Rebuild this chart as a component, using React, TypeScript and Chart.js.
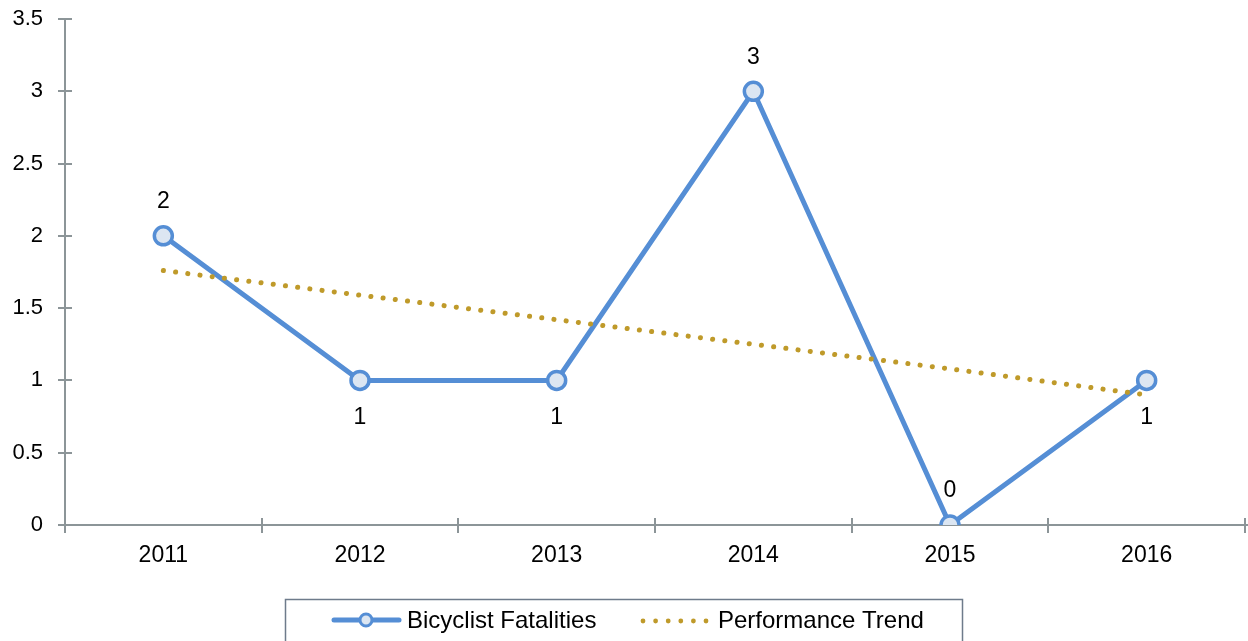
import React, { useEffect, useRef } from "react";
import { Chart, registerables } from "chart.js";

Chart.register(...registerables);

const years = ["2011", "2012", "2013", "2014", "2015", "2016"];
const fatalities = [2, 1, 1, 3, 0, 1];
const trend = [1.76, 1.59, 1.42, 1.25, 1.08, 0.9];
const labelPlacement = ["above", "below", "below", "above", "above", "below"];
const yTicks = [0, 0.5, 1, 1.5, 2, 2.5, 3, 3.5];

const BLUE = "#558ED5";
const GOLD = "#BF9A2A";
const AXIS = "#8C9598";
const FONT = "'Liberation Sans', Arial, sans-serif";

const axesPlugin = {
  id: "customAxes",
  beforeDatasetsDraw(chart: any) {
    const { ctx, chartArea, scales } = chart;
    const x = scales.x;
    const y = scales.y;
    ctx.save();
    ctx.strokeStyle = AXIS;
    ctx.lineWidth = 2;
    const left = chartArea.left;
    const bottom = chartArea.bottom;
    ctx.beginPath();
    ctx.moveTo(left, chartArea.top);
    ctx.lineTo(left, bottom + 8);
    ctx.moveTo(left, bottom);
    ctx.lineTo(chart.width, bottom);
    for (const v of yTicks) {
      const py = Math.round(y.getPixelForValue(v));
      ctx.moveTo(left - 7, py);
      ctx.lineTo(left + 7, py);
    }
    const step = x.getPixelForValue(1) - x.getPixelForValue(0);
    for (let i = 1; i <= years.length; i++) {
      const px = Math.round(x.getPixelForValue(i) - step / 2);
      ctx.moveTo(px, bottom - 7);
      ctx.lineTo(px, bottom + 8);
    }
    ctx.stroke();
    ctx.restore();
  },
};

const labelsPlugin = {
  id: "dataLabels",
  afterDatasetsDraw(chart: any) {
    const { ctx } = chart;
    const meta = chart.getDatasetMeta(1);
    ctx.save();
    ctx.fillStyle = "#000";
    ctx.font = `23px ${FONT}`;
    ctx.textAlign = "center";
    ctx.textBaseline = "middle";
    meta.data.forEach((pt: any, i: number) => {
      const dy = labelPlacement[i] === "above" ? -34 : 37;
      ctx.fillText(String(fatalities[i]), pt.x, pt.y + dy);
    });
    ctx.restore();
  },
};

const legendPlugin = {
  id: "customLegend",
  afterDraw(chart: any) {
    const { ctx } = chart;
    ctx.save();
    ctx.strokeStyle = "#6E7B8B";
    ctx.lineWidth = 1.5;
    ctx.strokeRect(285.5, 599.5, 677, 60);

    ctx.strokeStyle = BLUE;
    ctx.lineWidth = 5;
    ctx.lineCap = "round";
    ctx.beginPath();
    ctx.moveTo(334, 620);
    ctx.lineTo(399, 620);
    ctx.stroke();
    ctx.beginPath();
    ctx.arc(366, 620, 6, 0, Math.PI * 2);
    ctx.fillStyle = "#DCE6F2";
    ctx.fill();
    ctx.lineWidth = 3;
    ctx.stroke();

    ctx.fillStyle = GOLD;
    for (let i = 0; i < 6; i++) {
      ctx.beginPath();
      ctx.arc(643 + i * 12.6, 621, 2.4, 0, Math.PI * 2);
      ctx.fill();
    }

    ctx.fillStyle = "#000";
    ctx.font = `24px ${FONT}`;
    ctx.textAlign = "left";
    ctx.textBaseline = "alphabetic";
    ctx.fillText("Bicyclist Fatalities", 407, 628);
    ctx.fillText("Performance Trend", 718, 628);
    ctx.restore();
  },
};

export default function App() {
  const ref = useRef<HTMLCanvasElement | null>(null);
  useEffect(() => {
    if (!ref.current) return;
    const chart = new Chart(ref.current, {
      type: "line",
      data: {
        labels: years,
        datasets: [
          {
            label: "Performance Trend",
            data: trend,
            borderColor: GOLD,
            borderWidth: 5,
            borderDash: [0.1, 12.2],
            borderCapStyle: "round",
            pointRadius: 0,
            fill: false,
            order: 0,
          },
          {
            label: "Bicyclist Fatalities",
            data: fatalities,
            borderColor: BLUE,
            borderWidth: 5,
            pointRadius: 9,
            pointBorderWidth: 3.5,
            pointBackgroundColor: "#DCE6F2",
            pointBorderColor: BLUE,
            fill: false,
            tension: 0,
            order: 1,
          },
        ],
      },
      options: {
        responsive: false,
        animation: false,
        devicePixelRatio: 1,
        layout: { autoPadding: false, padding: { top: 19, right: 3, left: 0, bottom: 0 } },
        plugins: { legend: { display: false }, tooltip: { enabled: false } },
        scales: {
          x: {
            offset: true,
            grid: { display: false, drawTicks: false },
            border: { display: false },
            ticks: {
              color: "#000",
              font: { family: FONT, size: 23 },
              padding: 17,
              maxRotation: 0,
            },
            afterFit(scale: any) {
              scale.height = 116;
              scale.paddingLeft = 0;
              scale.paddingRight = 0;
            },
          },
          y: {
            min: 0,
            max: 3.5,
            grid: { display: false, drawTicks: false },
            border: { display: false },
            ticks: {
              stepSize: 0.5,
              color: "#000",
              font: { family: FONT, size: 22 },
              padding: 22,
              callback: (v: any) => String(v),
            },
            afterFit(scale: any) {
              scale.width = 65;
              scale.paddingTop = 0;
              scale.paddingBottom = 0;
            },
          },
        },
      },
      plugins: [axesPlugin, labelsPlugin, legendPlugin],
    });
    return () => chart.destroy();
  }, []);
  return (
    <div style={{ position: "absolute", left: 0, top: 0, width: 1248, height: 641, overflow: "hidden" }}>
      <canvas ref={ref} width={1248} height={641} style={{ display: "block" }} />
    </div>
  );
}
